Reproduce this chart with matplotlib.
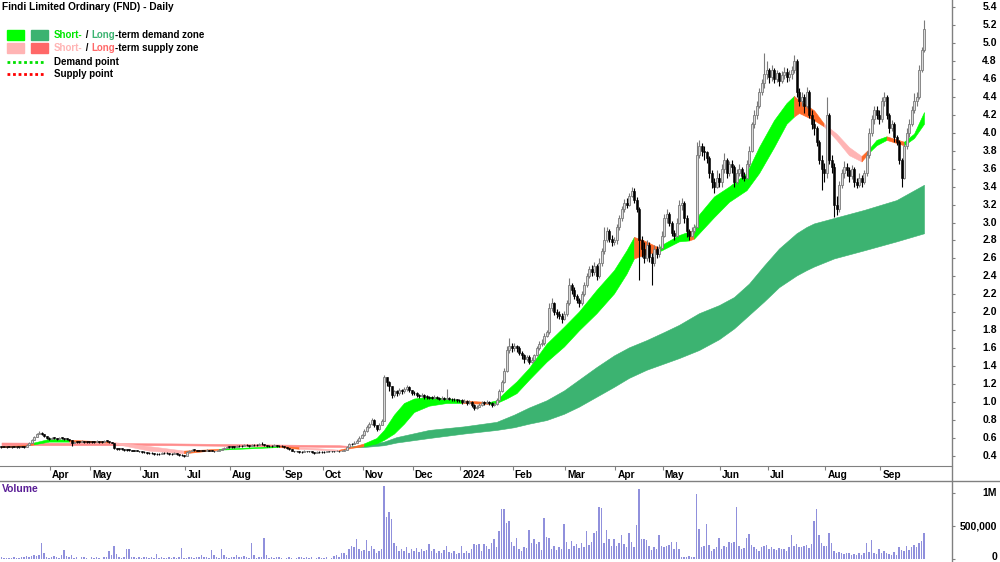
import numpy as np
import matplotlib.pyplot as plt
from matplotlib.patches import Rectangle
from matplotlib.lines import Line2D
from matplotlib.transforms import ScaledTranslation, blended_transform_factory

plt.rcParams['font.family'] = ['Liberation Sans', 'DejaVu Sans']

# month ticks: bars traded in each month (first entry = part of Mar 2023)
month_labels = ['Apr', 'May', 'Jun', 'Jul', 'Aug', 'Sep', 'Oct', 'Nov', 'Dec',
                '2024', 'Feb', 'Mar', 'Apr', 'May', 'Jun', 'Jul', 'Aug', 'Sep']
bars_per_month = [20, 16, 20, 18, 18, 21, 16, 16, 20, 19, 21, 21, 20, 19, 23, 19, 23, 22, 18]

close = [
    0.50, 0.50, 0.50, 0.50, 0.50, 0.50, 0.50, 0.50, 0.50, 0.50, 0.52, 0.55, 0.58, 0.61, 0.64, 0.66, 0.65, 0.62, 0.60, 0.59,
    0.60, 0.60, 0.59, 0.60, 0.60, 0.59, 0.59, 0.58, 0.55, 0.56, 0.56, 0.56, 0.57, 0.56, 0.56, 0.56,
    0.56, 0.56, 0.57, 0.56, 0.56, 0.57, 0.57, 0.56, 0.55, 0.49, 0.48, 0.48, 0.48, 0.47, 0.47, 0.47, 0.46, 0.46, 0.46, 0.45,
    0.44, 0.44, 0.43, 0.43, 0.43, 0.42, 0.42, 0.42, 0.43, 0.43, 0.43, 0.42, 0.42, 0.43, 0.42, 0.41, 0.41, 0.40,
    0.44, 0.46, 0.47, 0.47, 0.46, 0.46, 0.46, 0.46, 0.47, 0.46, 0.46, 0.45, 0.46, 0.47, 0.48, 0.49, 0.50, 0.50,
    0.50, 0.50, 0.51, 0.51, 0.51, 0.52, 0.52, 0.51, 0.52, 0.52, 0.52, 0.53, 0.53, 0.52, 0.51, 0.51, 0.51, 0.52, 0.51, 0.51, 0.51,
    0.50, 0.49, 0.48, 0.46, 0.45, 0.45, 0.44, 0.44, 0.46, 0.45, 0.45, 0.44, 0.43, 0.44, 0.44, 0.44,
    0.44, 0.45, 0.45, 0.45, 0.45, 0.46, 0.45, 0.46, 0.47, 0.50, 0.53, 0.53, 0.55, 0.57, 0.60, 0.63,
    0.68, 0.72, 0.76, 0.80, 0.74, 0.70, 0.75, 0.79, 1.28, 1.22, 1.18, 1.08, 1.12, 1.10, 1.14, 1.12, 1.15, 1.17, 1.13, 1.10,
    1.10, 1.08, 1.07, 1.08, 1.06, 1.06, 1.05, 1.05, 1.06, 1.05, 1.04, 1.05, 1.04, 1.05, 1.04, 1.03, 1.03, 1.02, 1.02,
    1.00, 1.01, 0.99, 1.00, 0.97, 0.93, 0.95, 0.97, 0.99, 0.99, 1.00, 0.99, 0.97, 0.98, 1.02, 1.12, 1.22, 1.35, 1.58, 1.62, 1.60,
    1.62, 1.60, 1.55, 1.52, 1.48, 1.50, 1.45, 1.47, 1.52, 1.60, 1.65, 1.66, 1.74, 1.78, 2.05, 2.10, 2.00, 1.98, 1.96, 1.92, 1.98,
    2.10, 2.30, 2.25, 2.18, 2.14, 2.10, 2.20, 2.30, 2.40, 2.48, 2.45, 2.52, 2.40, 2.55, 2.68, 2.80, 2.90, 2.82, 2.78, 2.80,
    2.95, 3.05, 3.15, 3.22, 3.20, 3.30, 3.35, 3.25, 3.15, 2.80, 2.70, 2.60, 2.75, 2.62, 2.55, 2.70, 2.65, 2.72, 2.85,
    3.05, 3.10, 3.00, 2.88, 2.85, 3.00, 3.20, 3.22, 3.05, 2.90, 2.85, 2.90, 2.95, 3.75, 3.85, 3.80, 3.78, 3.72, 3.55, 3.45, 3.40, 3.50, 3.45,
    3.60, 3.70, 3.55, 3.65, 3.62, 3.45, 3.55, 3.60, 3.52, 3.50, 3.65, 3.80, 4.10, 4.20, 4.30, 4.45, 4.55, 4.65, 4.70,
    4.62, 4.70, 4.60, 4.66, 4.58, 4.64, 4.68, 4.62, 4.65, 4.70, 4.80, 4.45, 4.35, 4.40, 4.30, 4.45, 4.20, 4.10, 4.05, 3.90, 3.70, 3.60, 3.55,
    4.20, 3.70, 3.62, 3.20, 3.15, 3.42, 3.55, 3.62, 3.58, 3.52, 3.60, 3.45, 3.42, 3.50, 3.45, 3.55, 3.75, 4.00, 4.15, 4.25, 4.20, 4.15,
    4.35, 4.40, 4.20, 4.05, 4.10, 3.95, 3.90, 3.70, 3.50, 3.85, 4.00, 4.10, 4.25, 4.35, 4.40, 4.70, 4.92, 5.15,
]

high = [
    0.51, 0.51, 0.50, 0.51, 0.50, 0.51, 0.50, 0.50, 0.51, 0.51, 0.53, 0.56, 0.59, 0.62, 0.66, 0.68, 0.67, 0.65, 0.62, 0.61,
    0.61, 0.61, 0.60, 0.61, 0.61, 0.60, 0.60, 0.59, 0.58, 0.57, 0.57, 0.57, 0.58, 0.57, 0.57, 0.57,
    0.57, 0.57, 0.58, 0.57, 0.57, 0.58, 0.58, 0.57, 0.56, 0.55, 0.49, 0.49, 0.49, 0.48, 0.48, 0.48, 0.47, 0.47, 0.47, 0.46,
    0.45, 0.45, 0.44, 0.44, 0.44, 0.43, 0.43, 0.43, 0.44, 0.44, 0.44, 0.43, 0.43, 0.44, 0.43, 0.42, 0.42, 0.41,
    0.45, 0.47, 0.48, 0.48, 0.47, 0.47, 0.47, 0.47, 0.48, 0.47, 0.47, 0.46, 0.47, 0.48, 0.49, 0.50, 0.51, 0.51,
    0.51, 0.51, 0.52, 0.52, 0.52, 0.53, 0.53, 0.52, 0.53, 0.53, 0.53, 0.54, 0.56, 0.53, 0.52, 0.52, 0.52, 0.53, 0.52, 0.52, 0.52,
    0.51, 0.50, 0.49, 0.48, 0.46, 0.46, 0.45, 0.45, 0.47, 0.46, 0.46, 0.45, 0.44, 0.45, 0.45, 0.45,
    0.45, 0.46, 0.46, 0.46, 0.46, 0.47, 0.46, 0.47, 0.48, 0.51, 0.54, 0.55, 0.57, 0.59, 0.62, 0.65,
    0.70, 0.74, 0.78, 0.82, 0.81, 0.75, 0.77, 0.81, 1.30, 1.28, 1.24, 1.18, 1.14, 1.13, 1.16, 1.15, 1.17, 1.19, 1.18, 1.14,
    1.12, 1.11, 1.09, 1.10, 1.09, 1.08, 1.07, 1.07, 1.08, 1.07, 1.06, 1.07, 1.06, 1.15, 1.06, 1.05, 1.05, 1.04, 1.04,
    1.03, 1.03, 1.02, 1.02, 1.01, 0.98, 0.97, 0.99, 1.01, 1.01, 1.02, 1.01, 1.00, 1.00, 1.05, 1.15, 1.25, 1.38, 1.62, 1.71, 1.66,
    1.66, 1.64, 1.62, 1.57, 1.54, 1.53, 1.52, 1.50, 1.54, 1.62, 1.68, 1.70, 1.77, 1.80, 2.10, 2.16, 2.12, 2.04, 2.01, 1.99, 2.02,
    2.14, 2.38, 2.33, 2.28, 2.20, 2.16, 2.24, 2.34, 2.44, 2.52, 2.53, 2.56, 2.54, 2.60, 2.72, 2.95, 2.95, 2.93, 2.86, 2.84,
    2.98, 3.08, 3.18, 3.26, 3.27, 3.33, 3.39, 3.38, 3.28, 3.17, 2.85, 2.78, 2.80, 2.78, 2.66, 2.75, 2.74, 2.76, 2.90,
    3.10, 3.15, 3.12, 3.02, 2.92, 3.05, 3.25, 3.27, 3.24, 3.08, 2.93, 2.95, 2.98, 3.90, 3.92, 3.88, 3.85, 3.80, 3.74, 3.58, 3.50, 3.58, 3.55,
    3.65, 3.77, 3.72, 3.68, 3.70, 3.64, 3.60, 3.65, 3.62, 3.56, 3.70, 3.85, 4.12, 4.25, 4.35, 4.50, 4.60, 4.89, 4.80,
    4.72, 4.75, 4.72, 4.70, 4.68, 4.69, 4.73, 4.72, 4.70, 4.74, 4.87, 4.82, 4.50, 4.45, 4.43, 4.51, 4.48, 4.25, 4.15, 4.08, 3.92, 3.75, 3.66,
    4.40, 4.22, 3.75, 3.66, 3.30, 3.46, 3.60, 3.68, 3.66, 3.62, 3.64, 3.62, 3.50, 3.55, 3.53, 3.58, 3.80, 4.05, 4.20, 4.30, 4.30, 4.25,
    4.40, 4.45, 4.42, 4.22, 4.14, 4.12, 3.98, 3.92, 3.72, 3.88, 4.05, 4.15, 4.30, 4.44, 4.45, 4.75, 4.95, 5.25,
]

low = [
    0.49, 0.50, 0.49, 0.50, 0.49, 0.50, 0.49, 0.49, 0.50, 0.49, 0.50, 0.52, 0.55, 0.58, 0.61, 0.64, 0.63, 0.61, 0.59, 0.58,
    0.59, 0.59, 0.58, 0.59, 0.59, 0.58, 0.58, 0.57, 0.51, 0.55, 0.55, 0.55, 0.56, 0.55, 0.55, 0.55,
    0.55, 0.55, 0.56, 0.55, 0.55, 0.56, 0.56, 0.55, 0.54, 0.48, 0.47, 0.47, 0.47, 0.46, 0.46, 0.46, 0.45, 0.45, 0.45, 0.44,
    0.43, 0.43, 0.42, 0.42, 0.42, 0.41, 0.41, 0.41, 0.42, 0.42, 0.42, 0.41, 0.41, 0.42, 0.41, 0.40, 0.40, 0.39,
    0.40, 0.44, 0.46, 0.46, 0.45, 0.45, 0.45, 0.45, 0.46, 0.45, 0.45, 0.44, 0.45, 0.46, 0.47, 0.48, 0.49, 0.49,
    0.49, 0.49, 0.50, 0.50, 0.50, 0.51, 0.51, 0.50, 0.51, 0.51, 0.51, 0.52, 0.52, 0.51, 0.50, 0.50, 0.50, 0.51, 0.50, 0.50, 0.50,
    0.49, 0.48, 0.47, 0.45, 0.44, 0.44, 0.43, 0.43, 0.44, 0.44, 0.44, 0.43, 0.42, 0.43, 0.43, 0.43,
    0.43, 0.44, 0.44, 0.44, 0.44, 0.45, 0.44, 0.45, 0.46, 0.47, 0.50, 0.52, 0.53, 0.55, 0.57, 0.60,
    0.62, 0.67, 0.71, 0.75, 0.72, 0.68, 0.69, 0.74, 0.93, 1.18, 1.12, 1.05, 1.06, 1.07, 1.08, 1.09, 1.10, 1.12, 1.11, 1.08,
    1.08, 1.06, 1.05, 1.06, 1.04, 1.04, 1.03, 1.03, 1.04, 1.03, 1.02, 1.03, 1.02, 1.03, 1.02, 1.01, 1.01, 1.00, 1.00,
    0.98, 0.99, 0.97, 0.98, 0.95, 0.91, 0.92, 0.94, 0.96, 0.97, 0.98, 0.97, 0.95, 0.96, 0.97, 1.01, 1.11, 1.21, 1.34, 1.55, 1.56,
    1.57, 1.56, 1.52, 1.48, 1.44, 1.46, 1.42, 1.43, 1.46, 1.51, 1.58, 1.62, 1.64, 1.72, 1.76, 2.01, 1.97, 1.94, 1.92, 1.88, 1.91,
    1.96, 2.08, 2.20, 2.15, 2.10, 2.06, 2.08, 2.18, 2.28, 2.38, 2.40, 2.42, 2.36, 2.38, 2.52, 2.65, 2.78, 2.78, 2.74, 2.75,
    2.76, 2.92, 3.02, 3.12, 3.16, 3.18, 3.28, 3.22, 3.12, 2.36, 2.62, 2.55, 2.57, 2.56, 2.30, 2.52, 2.60, 2.62, 2.70,
    2.84, 3.00, 2.96, 2.85, 2.80, 2.84, 2.98, 3.14, 3.00, 2.84, 2.80, 2.84, 2.88, 2.94, 3.72, 3.74, 3.70, 3.66, 3.50, 3.38, 3.33, 3.38, 3.40,
    3.40, 3.55, 3.50, 3.52, 3.55, 3.40, 3.43, 3.52, 3.48, 3.46, 3.48, 3.62, 3.78, 4.05, 4.15, 4.28, 4.42, 4.50, 4.60,
    4.55, 4.58, 4.55, 4.56, 4.52, 4.55, 4.60, 4.57, 4.58, 4.60, 4.66, 4.40, 4.30, 4.30, 4.22, 4.28, 4.16, 4.04, 3.98, 3.85, 3.65, 3.36, 3.45,
    3.50, 3.65, 3.55, 3.06, 3.08, 3.12, 3.38, 3.50, 3.52, 3.45, 3.48, 3.40, 3.38, 3.40, 3.40, 3.43, 3.52, 3.72, 3.96, 4.10, 4.15, 4.10,
    4.12, 4.30, 4.15, 4.00, 4.02, 3.90, 3.86, 3.65, 3.40, 3.48, 3.82, 3.95, 4.08, 4.22, 4.30, 4.38, 4.68, 4.90,
]

# volume in thousands of shares
volume_k = [
    30, 20, 25, 15, 20, 30, 25, 20, 30, 40, 50, 40, 55, 60, 45, 60, 250, 100, 40, 20,
    40, 50, 30, 20, 60, 140, 50, 30, 60, 20, 30, 10, 40, 30, 20, 10,
    30, 20, 40, 20, 10, 30, 40, 125, 60, 200, 80, 30, 20, 30, 155, 150, 40, 30, 20, 30,
    20, 30, 40, 20, 30, 20, 80, 20, 30, 20, 20, 30, 20, 30, 20, 30, 170, 20,
    20, 40, 30, 20, 40, 30, 60, 40, 30, 20, 140, 60, 40, 20, 155, 60, 30, 20,
    40, 30, 60, 30, 40, 50, 30, 20, 250, 60, 20, 30, 40, 320, 60, 20, 30, 20, 30, 40, 20,
    10, 20, 30, 20, 10, 20, 40, 30, 20, 30, 20, 40, 10, 20, 30, 20,
    20, 30, 10, 20, 50, 60, 40, 90, 100, 60, 150, 200, 180, 300, 160, 120,
    140, 290, 120, 200, 150, 100, 120, 160, 1110, 640, 710, 610, 250, 200, 130, 160, 120, 180, 100, 150,
    130, 170, 110, 150, 120, 140, 235, 120, 150, 100, 130, 90, 140, 200, 110, 90, 120, 80, 100,
    200, 90, 120, 100, 150, 230, 210, 230, 130, 230, 200, 160, 240, 305, 180, 430, 760, 760, 550, 580, 265,
    200, 320, 150, 130, 180, 170, 440, 250, 300, 230, 260, 140, 630, 340, 320, 150, 200, 140, 180, 160, 530,
    260, 150, 270, 200, 230, 170, 250, 180, 420, 220, 260, 400, 420, 790, 780, 240, 440, 300, 200, 300,
    200, 250, 370, 230, 190, 390, 260, 180, 520, 1060, 300, 310, 290, 200, 140, 180, 150, 360, 200,
    180, 200, 210, 260, 150, 260, 160, 40, 30, 40, 50, 40, 30, 985, 450, 180, 200, 530, 210, 120, 150, 180, 320,
    150, 200, 180, 260, 250, 260, 790, 200, 150, 170, 320, 380, 210, 190, 150, 130, 180, 200, 210,
    150, 180, 160, 140, 170, 150, 160, 130, 180, 360, 200, 230, 190, 180, 200, 210, 170, 230, 580, 760, 370, 250, 200,
    200, 400, 250, 130, 100, 110, 90, 80, 100, 90, 70, 80, 60, 90, 70, 100, 240, 110, 290, 100, 80, 160,
    90, 120, 100, 80, 60, 110, 70, 180, 140, 120, 200, 140, 180, 220, 190, 250, 275, 400,
]

# short-term zone edges (bar index, upper, lower, kind: g=demand, p=supply, o=orange)
short_bar = [0, 9, 13, 19, 27, 43, 59, 73, 87, 111, 119, 135, 140, 145, 150, 153, 157, 161, 165, 171, 178,
             184, 195, 198, 202, 206, 211, 218, 225, 231, 238, 245, 250, 253, 257, 263, 264, 271, 275, 277,
             279, 285, 291, 298, 303, 309, 314, 317, 319, 325, 329, 334, 339, 344, 347, 350, 354, 361, 365, 369]
short_hi = [0.51, 0.52, 0.55, 0.59, 0.58, 0.56, 0.51, 0.46, 0.48, 0.51, 0.50, 0.47, 0.50, 0.54, 0.60, 0.69, 0.86, 0.99, 1.04, 1.06, 1.04,
            1.02, 1.00, 1.02, 1.13, 1.23, 1.38, 1.65, 1.84, 2.01, 2.25, 2.47, 2.69, 2.84, 2.80, 2.72, 2.75, 2.86, 2.90, 2.92,
            3.09, 3.29, 3.40, 3.55, 3.84, 4.14, 4.33, 4.41, 4.36, 4.25, 4.10, 3.99, 3.84, 3.74, 3.82, 3.92, 3.96, 3.90, 3.99, 4.23]
short_lo = [0.50, 0.51, 0.53, 0.56, 0.56, 0.55, 0.46, 0.43, 0.47, 0.50, 0.48, 0.46, 0.49, 0.51, 0.54, 0.58, 0.65, 0.76, 0.89, 0.96, 0.99,
            0.99, 0.98, 0.99, 1.04, 1.10, 1.25, 1.45, 1.62, 1.80, 1.99, 2.21, 2.43, 2.60, 2.64, 2.68, 2.69, 2.79, 2.80, 2.82,
            2.88, 3.06, 3.23, 3.36, 3.55, 3.84, 4.10, 4.18, 4.22, 4.14, 4.07, 3.92, 3.75, 3.68, 3.78, 3.86, 3.92, 3.86, 3.94, 4.10]
short_kind = 'ooggoppogopoogggggggg' + 'ogggggggggggoogggog' + 'gggggggooopppoggoggg'

# long-term zone edges (s = supply, G = demand)
long_bar = [0, 68, 135, 140, 145, 153, 158, 171, 185, 198, 205, 211, 218, 225, 231, 238, 245, 251, 258, 265,
            271, 279, 287, 293, 299, 305, 311, 318, 322, 325, 333, 345, 358, 369]
long_hi = [0.55, 0.54, 0.52, 0.51, 0.52, 0.56, 0.61, 0.69, 0.73, 0.78, 0.86, 0.94, 1.02, 1.13, 1.25, 1.39, 1.52, 1.61, 1.69, 1.78,
           1.86, 1.99, 2.08, 2.17, 2.32, 2.52, 2.71, 2.88, 2.95, 2.99, 3.05, 3.14, 3.25, 3.42]
long_lo = [0.52, 0.52, 0.50, 0.50, 0.50, 0.52, 0.55, 0.60, 0.65, 0.69, 0.72, 0.76, 0.80, 0.87, 0.95, 1.06, 1.17, 1.27, 1.36, 1.43,
           1.49, 1.58, 1.70, 1.82, 1.97, 2.12, 2.28, 2.41, 2.47, 2.51, 2.60, 2.69, 2.79, 2.88]
long_kind = 'sss' + 'G' * 31

zone_colors = {'g': '#00ff00', 'p': '#ffb4b4', 'o': '#ff6a28', 'G': '#3cb371', 's': '#ff8c8c'}

W, H = 1000, 562
fig = plt.figure(figsize=(W / 100, H / 100), dpi=100)
ax = fig.add_axes([0, 1 - 465.5 / H, 0.952, 465.5 / H])
axv = fig.add_axes([0, 0, 0.952, 81 / H])

close = np.array(close)
high = np.array(high)
low = np.array(low)
vol = np.array(volume_k) * 1000
x = np.arange(len(close))
opn = np.r_[close[0], close[:-1]]
high = np.maximum(high, np.maximum(opn, close))
low = np.minimum(low, np.minimum(opn, close))


def fill_band(bars, hi, lo, kinds):
    bars, hi, lo = np.array(bars), np.array(hi), np.array(lo)
    n = len(bars)
    start = 0
    for k in range(1, n + 1):
        if k == n or kinds[k] != kinds[start]:
            sl = slice(start, min(k, n - 1) + 1)
            c = zone_colors[kinds[start]]
            ax.fill_between(bars[sl], lo[sl], hi[sl], color=c, lw=0.4, zorder=1)
            start = k


fill_band(long_bar, long_hi, long_lo, long_kind)
fill_band(short_bar, short_hi, short_lo, short_kind)

# candles
up = close > opn
dn = ~up
body_lo = np.minimum(opn, close)
body_h = np.maximum(np.abs(close - opn), 0.006)
ax.vlines(x[up], low[up], high[up], color='#7a7a7a', lw=0.8, zorder=3)
ax.vlines(x[dn], low[dn], high[dn], color='black', lw=0.8, zorder=3)
ax.bar(x[up], body_h[up], bottom=body_lo[up], width=0.8, color='#d9d9d9',
       edgecolor='#7a7a7a', lw=0.6, zorder=4)
ax.bar(x[dn], body_h[dn], bottom=body_lo[dn], width=0.8, color='black',
       edgecolor='black', lw=0.4, zorder=4)

ax.set_xlim(-0.6, 380.2)
ax.set_ylim(0.294, 5.478)
for s in ['top', 'left', 'right']:
    ax.spines[s].set_visible(False)
ax.spines['bottom'].set_color('#808080')

# right-hand price scale
yt = np.round(np.arange(0.4, 5.41, 0.2), 1)
ax.yaxis.tick_right()
ax.set_yticks(yt)
ax.set_yticklabels([])
ax.tick_params(axis='y', length=2, width=0.8, color='#808080')
tr = blended_transform_factory(ax.transAxes, ax.transData)
for v in yt:
    ax.text(997 / 952, v, '%.1f' % v, transform=tr, ha='right', va='center',
            fontsize=7.5, fontweight='bold', clip_on=False)

month_pos = np.cumsum(bars_per_month)[:-1] - 0.5
ax.set_xticks(month_pos)
ax.set_xticklabels(month_labels, fontsize=7.3, fontweight='bold', ha='left')
ax.tick_params(axis='x', length=3, width=0.8, color='#808080', pad=0.5)
off = ScaledTranslation(2 / 100, 0, fig.dpi_scale_trans)
for lab in ax.get_xticklabels():
    lab.set_transform(lab.get_transform() + off)

# volume
axv.bar(x, vol, width=0.45, color='#9090dc', zorder=2)
axv.set_xlim(-0.6, 380.2)
axv.set_ylim(-40000, 1181000)
for s in ['top', 'left', 'right', 'bottom']:
    axv.spines[s].set_visible(False)
axv.set_xticks([])
axv.yaxis.tick_right()
axv.set_yticks([0, 500000, 1000000])
axv.set_yticklabels([])
axv.tick_params(axis='y', length=2, width=0.8, color='#808080')
trv = blended_transform_factory(axv.transAxes, axv.transData)
for v, s in zip([30000, 500000, 1000000], ['0', '500,000', '1M']):
    axv.text(997 / 952, v, s, transform=trv, ha='right', va='center',
             fontsize=7.5, fontweight='bold', clip_on=False)
axv.text(0.002, 0.9, 'Volume', transform=axv.transAxes, color='#5a1e96',
         fontsize=7.5, fontweight='bold', va='center', ha='left')

# frame lines
fig.add_artist(Line2D([0.952, 0.952], [0, 1], color='#808080', lw=1))
fig.add_artist(Line2D([0, 1], [1 - 481 / H, 1 - 481 / H], color='#808080', lw=1))

# title and legend
fig.text(2 / W, 1 - 7 / H, 'Findi Limited Ordinary (FND) - Daily', fontsize=7.3,
         fontweight='bold', va='center', ha='left')

fig.add_artist(Rectangle((7 / W, 1 - 40 / H), 17 / W, 10 / H, color='#00ff00', transform=fig.transFigure))
fig.add_artist(Rectangle((31 / W, 1 - 40 / H), 17 / W, 10 / H, color='#3cb371', transform=fig.transFigure))
fig.add_artist(Rectangle((7 / W, 1 - 53 / H), 17 / W, 10 / H, color='#ffb4b4', transform=fig.transFigure))
fig.add_artist(Rectangle((31 / W, 1 - 53 / H), 17 / W, 10 / H, color='#ff6868', transform=fig.transFigure))
fig.add_artist(Line2D([7 / W, 45 / W], [1 - 62 / H, 1 - 62 / H], color='#00e000', lw=2,
                      linestyle=(0, (1, 1))))
fig.add_artist(Line2D([7 / W, 45 / W], [1 - 74 / H, 1 - 74 / H], color='#ff0000', lw=2,
                      linestyle=(0, (1, 1))))

renderer = fig.canvas.get_renderer()


def seq_text(x0, ypx, parts):
    xp = x0
    for s, c in parts:
        t = fig.text(xp / W, 1 - ypx / H, s, color=c, fontsize=7, fontweight='bold',
                     va='center', ha='left')
        xp += t.get_window_extent(renderer).width


seq_text(54, 35, [('Short-', '#00e600'), (' / ', 'black'), ('Long', '#3cb371'),
                  ('-term demand zone', 'black')])
seq_text(54, 48, [('Short-', '#ffb4b4'), (' / ', 'black'), ('Long', '#ff6868'),
                  ('-term supply zone', 'black')])
seq_text(54, 62, [('Demand point', 'black')])
seq_text(54, 74, [('Supply point', 'black')])

fig.savefig('out.png', dpi=100)
